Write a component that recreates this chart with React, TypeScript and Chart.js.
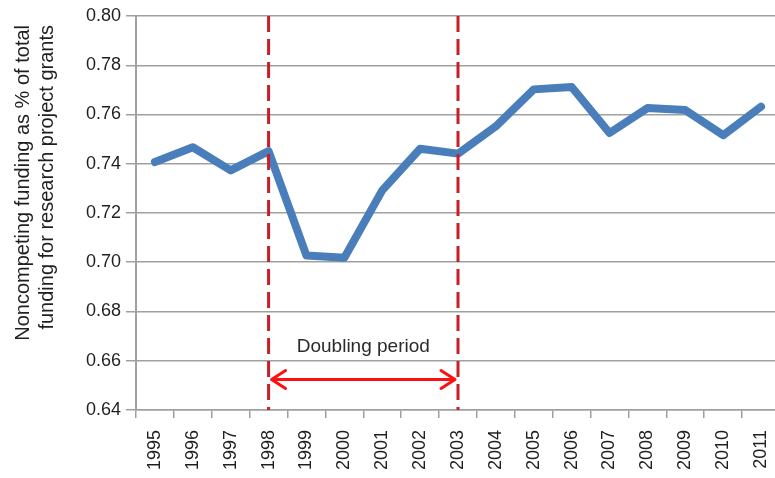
import { useEffect, useRef } from 'react';
import { Chart, registerables } from 'chart.js';

Chart.register(...registerables);

const years = ['1995', '1996', '1997', '1998', '1999', '2000', '2001', '2002', '2003', '2004', '2005', '2006', '2007', '2008', '2009', '2010', '2011'];
const noncompetingShare = [0.7407, 0.7467, 0.7373, 0.7451, 0.7027, 0.7018, 0.7292, 0.7461, 0.7441, 0.7552, 0.7702, 0.7712, 0.7525, 0.7626, 0.7618, 0.7516, 0.7632];
const yMin = 0.64;
const yMax = 0.8;
const yStep = 0.02;
const yTitle = ['Noncompeting funding as % of total', 'funding for research project grants'];
const doublingStart = '1998';
const doublingEnd = '2003';
const doublingLabel = 'Doubling period';
const arrowValue = 0.6524;
const labelValue = 0.6634;

const FONT = "'Liberation Sans', Arial, sans-serif";
const TEXT = '#1f1f1f';
const GRID = '#a0a0a0';

const yTitlePlugin = {
  id: 'yTitle',
  afterDraw(chart: any) {
    const { ctx, chartArea } = chart;
    ctx.save();
    ctx.fillStyle = TEXT;
    ctx.font = `20px ${FONT}`;
    ctx.textAlign = 'right';
    ctx.textBaseline = 'middle';
    yTitle.forEach((line, i) => {
      ctx.save();
      ctx.translate(23 + i * 24, chartArea.top + 9);
      ctx.rotate(-Math.PI / 2);
      ctx.fillText(line, 0, 0);
      ctx.restore();
    });
    ctx.restore();
  },
};

const doublingPlugin = {
  id: 'doublingPeriod',
  afterDatasetsDraw(chart: any) {
    const { ctx, chartArea, scales } = chart;
    const xs = scales.x;
    const ys = scales.y;
    const x1 = xs.getPixelForValue(years.indexOf(doublingStart));
    const x2 = xs.getPixelForValue(years.indexOf(doublingEnd));
    ctx.save();
    ctx.strokeStyle = '#c81e28';
    ctx.lineWidth = 3;
    ctx.setLineDash([16, 7]);
    [x1, x2].forEach((x: number) => {
      ctx.beginPath();
      ctx.moveTo(x, chartArea.top);
      ctx.lineTo(x, chartArea.bottom);
      ctx.stroke();
    });
    const ay = ys.getPixelForValue(arrowValue);
    const l = x1 + 3;
    const r = x2 - 3;
    ctx.setLineDash([]);
    ctx.strokeStyle = '#ff1010';
    ctx.lineWidth = 3;
    ctx.lineCap = 'round';
    ctx.lineJoin = 'round';
    ctx.beginPath();
    ctx.moveTo(l, ay);
    ctx.lineTo(r, ay);
    ctx.moveTo(l + 14, ay - 9);
    ctx.lineTo(l, ay);
    ctx.lineTo(l + 14, ay + 9);
    ctx.moveTo(r - 14, ay - 9);
    ctx.lineTo(r, ay);
    ctx.lineTo(r - 14, ay + 9);
    ctx.stroke();
    ctx.fillStyle = '#2a2a2a';
    ctx.font = `19px ${FONT}`;
    ctx.textAlign = 'center';
    ctx.textBaseline = 'alphabetic';
    ctx.fillText(doublingLabel, (x1 + x2) / 2, ys.getPixelForValue(labelValue));
    ctx.restore();
  },
};

export default function App() {
  const ref = useRef<HTMLCanvasElement | null>(null);

  useEffect(() => {
    if (!ref.current) return;
    const chart = new Chart(ref.current, {
      type: 'line',
      data: {
        labels: years,
        datasets: [
          {
            data: noncompetingShare,
            borderColor: '#4a7ebb',
            borderWidth: 8,
            borderJoinStyle: 'round',
            borderCapStyle: 'round',
            pointRadius: 0,
            tension: 0,
            fill: false,
          },
        ],
      },
      options: {
        animation: false,
        responsive: false,
        devicePixelRatio: 1,
        layout: { padding: { top: 16, right: 20, bottom: 0, left: 0 } },
        plugins: {
          legend: { display: false },
          tooltip: { enabled: false },
        },
        scales: {
          x: {
            type: 'category',
            offset: true,
            afterFit: (scale: any) => {
              scale.height = 68;
            },
            grid: {
              display: true,
              offset: true,
              drawOnChartArea: false,
              drawTicks: true,
              tickLength: 8,
              color: GRID,
              lineWidth: 1.5,
            },
            border: { display: true, color: GRID, width: 1.5 },
            ticks: {
              autoSkip: false,
              maxRotation: 90,
              minRotation: 90,
              padding: 12,
              color: TEXT,
              font: { family: FONT, size: 18 },
            },
          },
          y: {
            type: 'linear',
            min: yMin,
            max: yMax,
            afterFit: (scale: any) => {
              scale.width = 136;
            },
            grid: {
              color: GRID,
              lineWidth: 1.5,
              drawTicks: true,
              tickLength: 10,
            },
            border: { display: true, color: GRID, width: 2 },
            ticks: {
              stepSize: yStep,
              padding: 5,
              color: TEXT,
              font: { family: FONT, size: 18 },
              callback: (v: any) => Number(v).toFixed(2),
            },
          },
        },
      },
      plugins: [doublingPlugin, yTitlePlugin],
    });
    return () => chart.destroy();
  }, []);

  return (
    <div
      style={{
        position: 'fixed',
        left: 0,
        top: 0,
        width: 775,
        height: 478,
        overflow: 'hidden',
        background: '#ffffff',
      }}
    >
      <canvas ref={ref} width={800} height={478} style={{ display: 'block' }} />
    </div>
  );
}
